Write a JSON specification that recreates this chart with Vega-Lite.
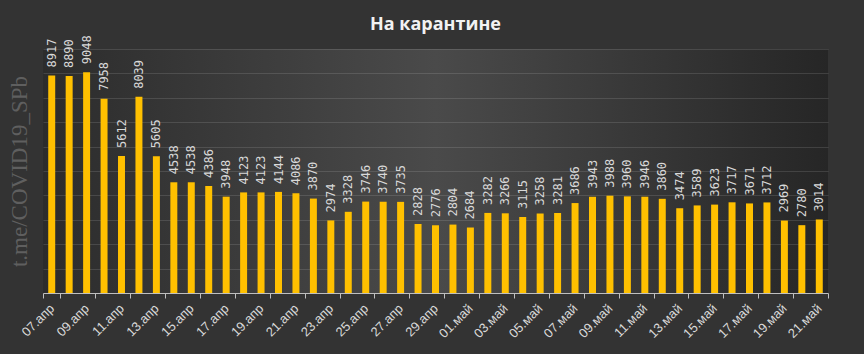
{
  "$schema": "https://vega.github.io/schema/vega-lite/v6.json",
  "width": 785,
  "height": 244,
  "autosize": {"type": "none"},
  "padding": {"left": 43, "top": 49, "right": 36, "bottom": 61},
  "background": "#333333",
  "view": {
    "stroke": null,
    "fill": {
      "gradient": "linear", "x1": 0, "y1": 0, "x2": 1, "y2": 0,
      "stops": [
        {"offset": 0, "color": "#2c2c2c"},
        {"offset": 0.5, "color": "#4a4a4a"},
        {"offset": 1, "color": "#262626"}
      ]
    }
  },
  "title": {
    "text": "На карантине",
    "frame": "group",
    "anchor": "middle",
    "baseline": "alphabetic",
    "offset": -13,
    "font": "Open Sans",
    "fontSize": 18,
    "fontWeight": "bold",
    "color": "#f2f2f2"
  },
  "data": {
    "values": [
      {"date": "07.апр", "value": 8917}, {"date": "08.апр", "value": 8890}, {"date": "09.апр", "value": 9048},
      {"date": "10.апр", "value": 7958}, {"date": "11.апр", "value": 5612}, {"date": "12.апр", "value": 8039},
      {"date": "13.апр", "value": 5605}, {"date": "14.апр", "value": 4538}, {"date": "15.апр", "value": 4538},
      {"date": "16.апр", "value": 4386}, {"date": "17.апр", "value": 3948}, {"date": "18.апр", "value": 4123},
      {"date": "19.апр", "value": 4123}, {"date": "20.апр", "value": 4144}, {"date": "21.апр", "value": 4086},
      {"date": "22.апр", "value": 3870}, {"date": "23.апр", "value": 2974}, {"date": "24.апр", "value": 3328},
      {"date": "25.апр", "value": 3746}, {"date": "26.апр", "value": 3740}, {"date": "27.апр", "value": 3735},
      {"date": "28.апр", "value": 2828}, {"date": "29.апр", "value": 2776}, {"date": "30.апр", "value": 2804},
      {"date": "01.май", "value": 2684}, {"date": "02.май", "value": 3282}, {"date": "03.май", "value": 3266},
      {"date": "04.май", "value": 3115}, {"date": "05.май", "value": 3258}, {"date": "06.май", "value": 3281},
      {"date": "07.май", "value": 3686}, {"date": "08.май", "value": 3943}, {"date": "09.май", "value": 3988},
      {"date": "10.май", "value": 3960}, {"date": "11.май", "value": 3946}, {"date": "12.май", "value": 3860},
      {"date": "13.май", "value": 3474}, {"date": "14.май", "value": 3589}, {"date": "15.май", "value": 3623},
      {"date": "16.май", "value": 3717}, {"date": "17.май", "value": 3671}, {"date": "18.май", "value": 3712},
      {"date": "19.май", "value": 2969}, {"date": "20.май", "value": 2780}, {"date": "21.май", "value": 3014}
    ]
  },
  "encoding": {
    "x": {
      "field": "date",
      "type": "ordinal",
      "sort": null,
      "scale": {"paddingInner": 0, "paddingOuter": 0},
      "axis": {
        "title": null,
        "values": ["07.апр", "09.апр", "11.апр", "13.апр", "15.апр", "17.апр", "19.апр", "21.апр", "23.апр", "25.апр", "27.апр", "29.апр", "01.май", "03.май", "05.май", "07.май", "09.май", "11.май", "13.май", "15.май", "17.май", "19.май", "21.май"],
        "tickBand": "extent",
        "labelAngle": -45,
        "labelAlign": "right",
        "labelBaseline": "middle",
        "labelColor": "#d9d9d9",
        "labelFont": "Liberation Sans",
        "labelFontSize": 13,
        "labelPadding": 8,
        "tickColor": "#bfbfbf",
        "tickSize": 5,
        "domainColor": "#bfbfbf",
        "grid": false
      }
    },
    "y": {
      "field": "value",
      "type": "quantitative",
      "scale": {"domain": [0, 10000]},
      "axis": {
        "values": [1000, 2000, 3000, 4000, 5000, 6000, 7000, 8000, 9000, 10000],
        "grid": true,
        "gridColor": "#ffffff",
        "gridOpacity": 0.12,
        "labels": false,
        "ticks": false,
        "domain": false,
        "title": "t.me/COVID19_SPb",
        "titleFont": "Liberation Serif",
        "titleFontSize": 23,
        "titleFontWeight": "normal",
        "titleColor": "#5f5f5f",
        "titlePadding": 12
      }
    }
  },
  "layer": [
    {"mark": {"type": "bar", "color": "#FFC000", "width": {"band": 0.4}}},
    {
      "mark": {"type": "text", "angle": -90, "align": "left", "baseline": "middle", "dx": 8, "font": "DejaVu Sans Mono", "fontSize": 12, "color": "#d9d9d9"},
      "encoding": {"text": {"field": "value", "type": "quantitative", "format": "d"}}
    }
  ]
}
